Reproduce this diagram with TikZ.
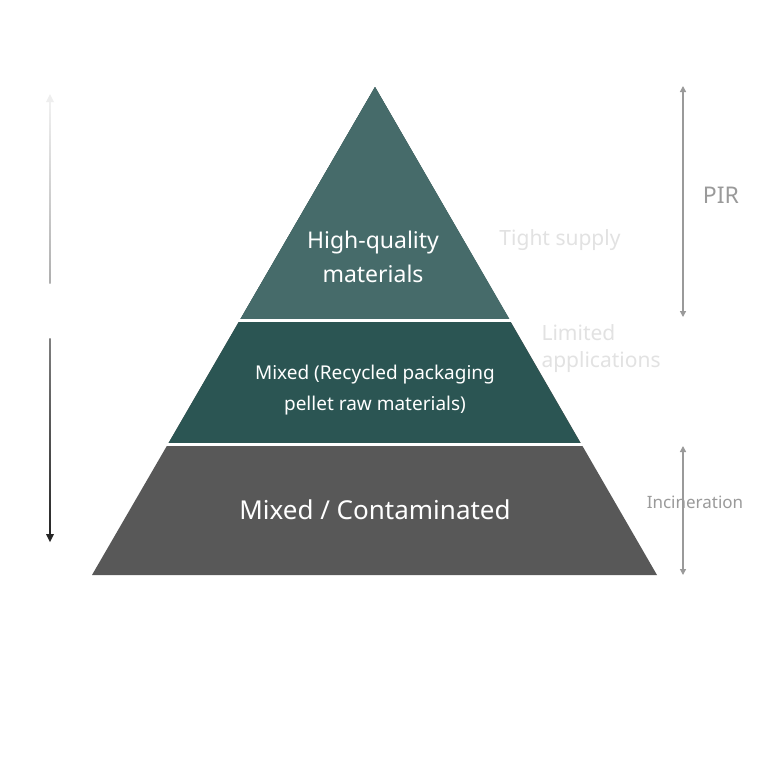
\documentclass[tikz,border=0pt]{standalone}
\usepackage{fontspec}
\setmainfont{Noto Sans}
\usetikzlibrary{arrows.meta}
\definecolor{topband}{HTML}{466B6A}
\definecolor{midband}{HTML}{2B5553}
\definecolor{lowband}{HTML}{585858}
\definecolor{sidegray}{HTML}{9A9A9A}
\definecolor{faintgray}{HTML}{E2E2E2}
\tikzset{
  bandtext/.style 2 args={white, align=center, font=\fontsize{#1}{#2}\selectfont\bfseries},
  sidearrow/.style={sidegray, line width=1.3, {Triangle[length=6,width=6]}-{Triangle[length=6,width=6]}},
}
\begin{document}
\begin{tikzpicture}[x=1pt, y=-1pt]
	\useasboundingbox[fill=white] (0,0) rectangle (770,772);
	% pyramid
	\fill[lowband] (375,87) -- (657,575) -- (92,575) -- cycle;
	\fill[midband] (375,87) -- (581.3,444.5) -- (167.7,444.5) -- cycle;
	\fill[topband] (375,87) -- (510.3,320.5) -- (239.6,320.5) -- cycle;
	\draw[white, line width=3] (230,320.5) -- (520,320.5);
	\draw[white, line width=3] (160,444.5) -- (590,444.5);
	\node[bandtext={23}{34}] (high) at (373,257) {High-quality\\materials};
	\node[bandtext={19}{31}] (mixed) at (375,390) {Mixed (Recycled packaging\\pellet raw materials)};
	\node[bandtext={26}{32}] (cont) at (375,510) {Mixed / Contaminated};
	% left arrows
	\shade[bottom color=sidegray!80, top color=faintgray!50] (49.3,283) rectangle (50.7,100);
	\fill[faintgray!60] (50,94) -- (54,102) -- (46,102) -- cycle;
	\shade[top color=gray, bottom color=black!85] (49.3,338) rectangle (50.7,535);
	\fill[black!85] (50,542) -- (54,534) -- (46,534) -- cycle;
	% right side
	\coordinate (pirtop) at (683,86);
	\coordinate (pirbot) at (683,317);
	\draw[sidearrow] (pirtop) -- (pirbot);
	\coordinate (inctop) at (683,446);
	\coordinate (incbot) at (683,575);
	\draw[sidearrow] (inctop) -- (incbot);
	\node[sidegray, font=\fontsize{23}{28}\selectfont\bfseries] (pir) at (721,195) {PIR};
	\node[faintgray, font=\fontsize{21}{26}\selectfont] (tight) at (560,240) {Tight supply};
	\node[faintgray, anchor=west, align=left, font=\fontsize{21}{27}\selectfont] (limited) at (538,349) {Limited\\applications};
	\node[sidegray, font=\fontsize{17}{20}\selectfont\bfseries] (incin) at (695,502) {Incineration};
\end{tikzpicture}
\end{document}
